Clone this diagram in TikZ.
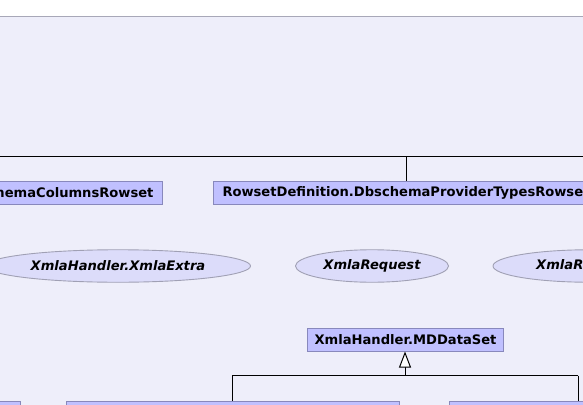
\documentclass[tikz,border=0pt]{standalone}
\usepackage{fontspec}
\setmainfont{DejaVu Sans}
\usetikzlibrary{shapes.geometric,arrows.meta}
\definecolor{panel}{HTML}{EEEEFA}
\definecolor{panelborder}{HTML}{A8A8B8}
\definecolor{boxfill}{HTML}{C0C0FF}
\definecolor{boxborder}{HTML}{8888BC}
\definecolor{ellfill}{HTML}{DCDCFA}
\definecolor{ellborder}{HTML}{A0A0B4}
\begin{document}
\begin{tikzpicture}[x=1pt,y=-1pt,
  box/.style={draw=boxborder, fill=boxfill, line width=1pt,
    font=\fontsize{13.1}{15}\selectfont\bfseries,
    inner xsep=7pt, inner ysep=0pt, minimum height=23pt},
  ell/.style={ellipse, draw=ellborder, fill=ellfill, line width=0.9pt,
    font=\fontsize{13.1}{15}\selectfont\bfseries\itshape,
    inner sep=0pt, minimum height=32.5pt},
  edge/.style={draw=black, line width=1pt}]
\useasboundingbox (0,0) rectangle (583,404);
\begin{scope}
\clip (0,0) rectangle (583,404);
\fill[white] (0,0) rectangle (583,404);
\fill[panel] (-5,17) rectangle (590,420);
\draw[panelborder, line width=1pt] (-5,17) -- (590,17);

% top row of boxes
\node[box, inner xsep=9pt, anchor=north east] (cols) at (163,181) {RowsetDefinition.DbschemaColumnsRowset};
\node[box, inner xsep=9pt, anchor=north west] (ptypes) at (213,181) {RowsetDefinition.DbschemaProviderTypesRowset};
\coordinate (tl) at (-5,156);
\coordinate (tr) at (590,156);
\coordinate (tj) at (406,156);
\draw[edge] (tl) -- (tr);
\draw[edge] (tj) -- (tj |- ptypes.north);

% ellipses
\node[ell, minimum width=265pt] (extra) at (118,266) {XmlaHandler.XmlaExtra};
\node[ell, minimum width=153pt] (req) at (372,266) {XmlaRequest};
\node[ell, minimum width=194pt] (resp) at (590,266) {XmlaResponse};

% MDDataSet and its children
\node[box, anchor=north] (md) at (405.5,327.5) {XmlaHandler.MDDataSet};
\node[box, anchor=north east, minimum width=100pt] (b1) at (20.5,400.5) {};
\node[box, anchor=north west, minimum width=333pt] (b2) at (65.5,400.5) {};
\node[box, anchor=north west, minimum width=200pt] (b3) at (448.5,400.5) {};
\coordinate (mj) at (405,375.5);
\coordinate (ml) at (232,375.5);
\coordinate (mr) at (578,375.5);
\draw[edge, -{Triangle[width=12pt, length=16pt, fill=white, line width=1pt]}] (mj) -- (mj |- md.south);
\draw[edge] (ml) -- (mr);
\draw[edge] (ml) -- (ml |- b2.north);
\draw[edge] (mr) -- (mr |- b3.north);
\end{scope}
\end{tikzpicture}
\end{document}
